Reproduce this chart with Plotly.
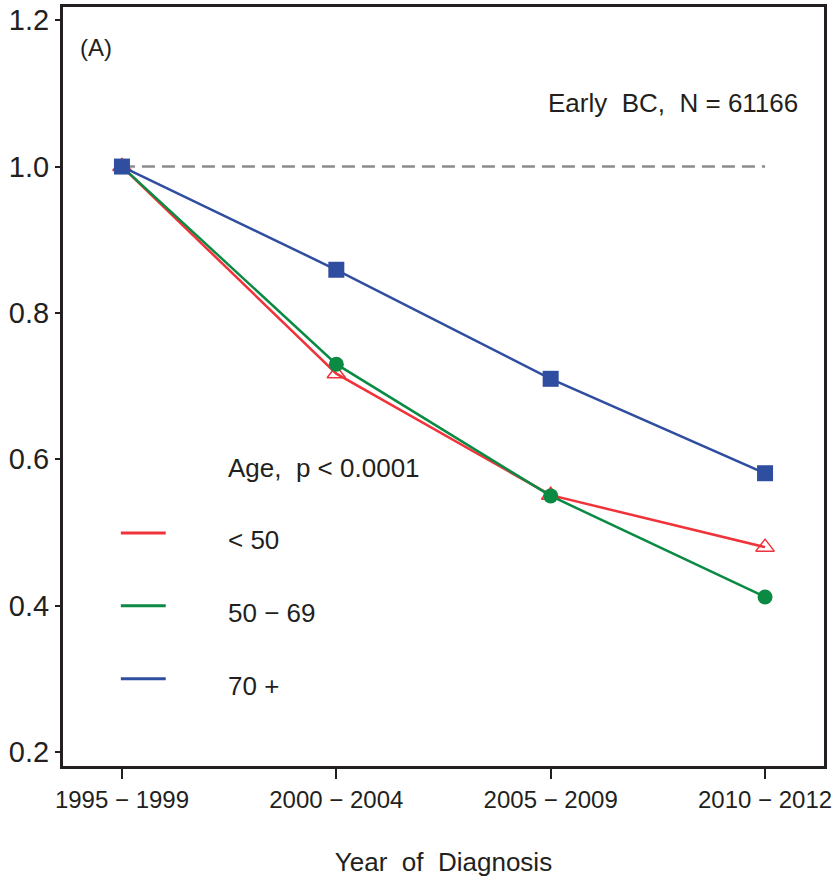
import plotly.graph_objects as go

periods = ["1995 − 1999", "2000 − 2004", "2005 − 2009", "2010 − 2012"]
age_lt50 = [1.0, 0.717, 0.551, 0.48]
age_50_69 = [1.0, 0.73, 0.55, 0.412]
age_70p = [1.0, 0.859, 0.71, 0.581]
reference = [1.0, 1.0, 1.0, 1.0]
legend_labels = ["< 50", "50 − 69", "70 +"]
legend_title = "Age,  p < 0.0001"

RED = "#f0333a"
GREEN = "#0a8a43"
BLUE = "#2f4ea0"
FONT = "Liberation Sans, Arial, sans-serif"
TXT = "#231f20"

xi = list(range(len(periods)))

fig = go.Figure()
fig.add_trace(go.Scatter(x=xi, y=reference, mode="lines",
                         line=dict(color="#8c8c8c", width=2.5, dash="13px,7px"),
                         showlegend=False, hoverinfo="skip"))
fig.add_trace(go.Scatter(x=xi, y=age_lt50, mode="lines+markers", name=legend_labels[0],
                         line=dict(color=RED, width=2.5),
                         marker=dict(symbol="triangle-up-open", size=16, color=RED, line=dict(width=1.5, color=RED)),
                         showlegend=False))
fig.add_trace(go.Scatter(x=xi, y=age_50_69, mode="lines+markers", name=legend_labels[1],
                         line=dict(color=GREEN, width=2.5),
                         marker=dict(symbol="circle", size=15, color=GREEN),
                         showlegend=False))
fig.add_trace(go.Scatter(x=xi, y=age_70p, mode="lines+markers", name=legend_labels[2],
                         line=dict(color=BLUE, width=2.5),
                         marker=dict(symbol="square", size=16, color=BLUE),
                         showlegend=False))

# manual legend
leg_line_y = [0.307, 0.211, 0.115]
leg_text_y = [0.298, 0.202, 0.105]
leg_cols = [RED, GREEN, BLUE]
for yl, yt, col, lab in zip(leg_line_y, leg_text_y, leg_cols, legend_labels):
    fig.add_shape(type="line", xref="paper", yref="paper", x0=0.076, x1=0.135, y0=yl, y1=yl,
                  line=dict(color=col, width=3))
    fig.add_annotation(xref="paper", yref="paper", x=0.214, y=yt, text=lab, showarrow=False,
                       xanchor="left", yanchor="middle", font=dict(family=FONT, size=26, color=TXT))
fig.add_annotation(xref="paper", yref="paper", x=0.214, y=0.393, text=legend_title, showarrow=False,
                   xanchor="left", yanchor="middle", font=dict(family=FONT, size=26, color=TXT))
fig.add_annotation(xref="paper", yref="paper", x=0.020, y=0.947, text="(A)", showarrow=False,
                   xanchor="left", yanchor="middle", font=dict(family=FONT, size=24, color=TXT))
fig.add_annotation(xref="paper", yref="paper", x=0.968, y=0.874, text="Early  BC,  N = 61166", showarrow=False,
                   xanchor="right", yanchor="middle", font=dict(family=FONT, size=26, color=TXT))

fig.update_layout(
    width=835, height=883,
    margin=dict(l=63, r=11, t=7, b=117, autoexpand=False),
    paper_bgcolor="white", plot_bgcolor="white",
    font=dict(family=FONT, color=TXT),
)
fig.update_xaxes(range=[-0.275, 3.275], tickmode="array", tickvals=xi, ticktext=periods,
                 automargin=False,
                 showgrid=False, zeroline=False, showline=True, mirror=True, linecolor="#231f20", linewidth=3,
                 ticks="outside", ticklen=10, tickwidth=1.5, tickcolor="#231f20",
                 tickfont=dict(family=FONT, size=24, color=TXT),
                 title=dict(text="Year  of  Diagnosis", font=dict(family=FONT, size=26, color=TXT), standoff=42))
fig.update_yaxes(range=[0.181, 1.218], tickvals=[0.2, 0.4, 0.6, 0.8, 1.0, 1.2],
                 ticktext=["0.2", "0.4", "0.6", "0.8", "1.0", "1.2"],
                 automargin=False,
                 showgrid=False, zeroline=False, showline=True, mirror=True, linecolor="#231f20", linewidth=3,
                 ticks="outside", ticklen=5, tickwidth=1.5, tickcolor="#231f20",
                 tickfont=dict(family=FONT, size=29, color=TXT))

fig.write_html("out.html", config={"displayModeBar": False},
               post_script="document.body.style.margin='0';")
